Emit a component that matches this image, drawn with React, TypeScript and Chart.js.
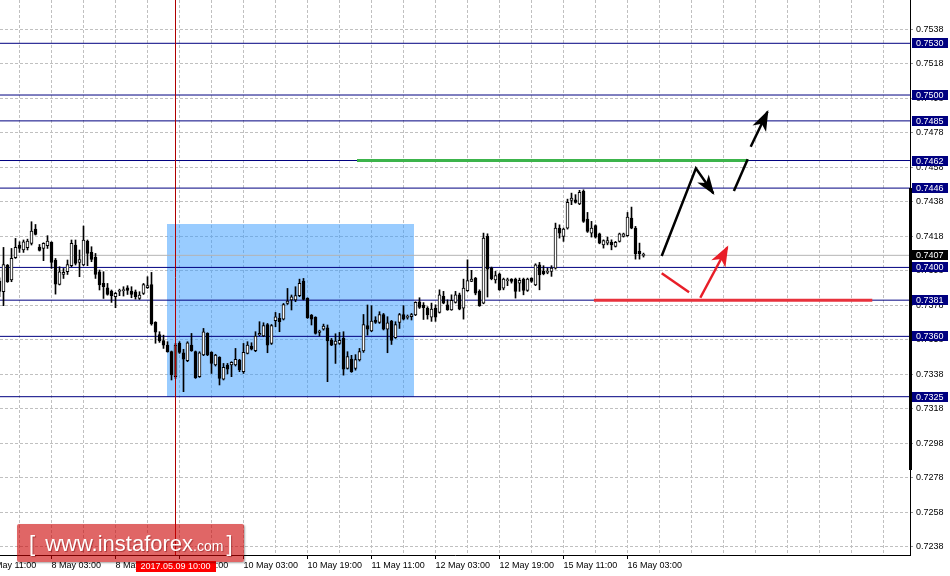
import React, { useEffect, useRef } from 'react';
import { Chart, registerables } from 'chart.js';

Chart.register(...registerables);

// ---------- DATA ----------
// H1 bars, bar index 0 = 5 May 11:00 (weekends skipped)
const FIRST_BAR = 3;

const opens = [
  0.73920,
  0.73859, 0.74014, 0.73927, 0.74056, 0.74130, 0.74101, 0.74114, 0.74139, 0.74222, 0.74118,
  0.74110, 0.74126, 0.74145, 0.74043, 0.73901, 0.73959, 0.73975, 0.74010, 0.74130, 0.74029,
  0.74014, 0.74153, 0.74087, 0.74058, 0.73975, 0.73907, 0.73882, 0.73863, 0.73830, 0.73861,
  0.73865, 0.73882, 0.73863, 0.73859, 0.73820, 0.73849, 0.73882, 0.73901, 0.73681, 0.73611,
  0.73575, 0.73550, 0.73511, 0.73366, 0.73559, 0.73505, 0.73459, 0.73550, 0.73511, 0.73366,
  0.73492, 0.73617, 0.73507, 0.73434, 0.73478, 0.73351, 0.73434, 0.73434, 0.73434, 0.73463,
  0.73395, 0.73501, 0.73544, 0.73517, 0.73608, 0.73602, 0.73669, 0.73559, 0.73691, 0.73704,
  0.73700, 0.73791, 0.73811, 0.73811, 0.73836, 0.73921, 0.73820, 0.73724, 0.73710, 0.73623,
  0.73642, 0.73650, 0.73578, 0.73553, 0.73559, 0.73588, 0.73414, 0.73468, 0.73414, 0.73464,
  0.73515, 0.73662, 0.73631, 0.73695, 0.73681, 0.73727, 0.73642, 0.73689, 0.73592, 0.73681,
  0.73727, 0.73710, 0.73714, 0.73724, 0.73801, 0.73782, 0.73762, 0.73712, 0.73764, 0.73739,
  0.73832, 0.73783, 0.73754, 0.73797, 0.73841, 0.73764, 0.73865, 0.73919, 0.73938, 0.73861,
  0.73793, 0.74180, 0.73996, 0.73928, 0.73961, 0.73880, 0.73923, 0.73932, 0.73932, 0.73909,
  0.73932, 0.73867, 0.73938, 0.73899, 0.74015, 0.73977, 0.73971, 0.73977, 0.73996, 0.74228,
  0.74180, 0.74228, 0.74389, 0.74392, 0.74369, 0.74441, 0.74280, 0.74199, 0.74242, 0.74195,
  0.74131, 0.74141, 0.74147, 0.74122, 0.74151, 0.74180, 0.74184, 0.74286, 0.74228, 0.74093,
  0.74070,
];

const highs = [
  0.73940,
  0.74116, 0.74017, 0.74110, 0.74168, 0.74149, 0.74159, 0.74164, 0.74265, 0.74249, 0.74133,
  0.74143, 0.74184, 0.74149, 0.74052, 0.74004, 0.73994, 0.74043, 0.74159, 0.74159, 0.74101,
  0.74240, 0.74159, 0.74120, 0.74081, 0.73985, 0.73975, 0.73907, 0.73869, 0.73855, 0.73874,
  0.73888, 0.73894, 0.73888, 0.73869, 0.73859, 0.73907, 0.73946, 0.73971, 0.73685, 0.73627,
  0.73607, 0.73569, 0.73515, 0.73560, 0.73569, 0.73525, 0.73569, 0.73617, 0.73515, 0.73511,
  0.73646, 0.73621, 0.73511, 0.73496, 0.73482, 0.73443, 0.73443, 0.73453, 0.73530, 0.73467,
  0.73559, 0.73569, 0.73563, 0.73627, 0.73685, 0.73679, 0.73675, 0.73669, 0.73739, 0.73733,
  0.73791, 0.73878, 0.73840, 0.73888, 0.73932, 0.73936, 0.73824, 0.73727, 0.73714, 0.73636,
  0.73671, 0.73666, 0.73588, 0.73615, 0.73623, 0.73627, 0.73511, 0.73490, 0.73494, 0.73530,
  0.73727, 0.73782, 0.73778, 0.73714, 0.73743, 0.73733, 0.73714, 0.73693, 0.73685, 0.73733,
  0.73778, 0.73724, 0.73733, 0.73801, 0.73824, 0.73796, 0.73772, 0.73793, 0.73783, 0.73870,
  0.73861, 0.73812, 0.73841, 0.73861, 0.73851, 0.73932, 0.74044, 0.73983, 0.73942, 0.73870,
  0.74199, 0.74195, 0.74002, 0.73977, 0.73967, 0.73938, 0.73938, 0.73935, 0.73938, 0.73938,
  0.73938, 0.73938, 0.73940, 0.74021, 0.74029, 0.74010, 0.73996, 0.74010, 0.74257, 0.74247,
  0.74228, 0.74396, 0.74431, 0.74422, 0.74447, 0.74450, 0.74319, 0.74267, 0.74247, 0.74199,
  0.74160, 0.74176, 0.74160, 0.74151, 0.74199, 0.74199, 0.74319, 0.74350, 0.74238, 0.74141,
  0.74083,
];

const lows = [
  0.73830,
  0.73778, 0.73913, 0.73917, 0.74052, 0.74087, 0.74087, 0.74101, 0.74130, 0.74188, 0.74095,
  0.74039, 0.74110, 0.73994, 0.73845, 0.73898, 0.73936, 0.73959, 0.74004, 0.74014, 0.73946,
  0.74010, 0.74010, 0.74033, 0.73936, 0.73869, 0.73820, 0.73839, 0.73797, 0.73766, 0.73836,
  0.73834, 0.73843, 0.73824, 0.73816, 0.73814, 0.73843, 0.73878, 0.73665, 0.73560, 0.73565,
  0.73530, 0.73508, 0.73347, 0.73355, 0.73501, 0.73279, 0.73453, 0.73513, 0.73356, 0.73362,
  0.73488, 0.73488, 0.73385, 0.73428, 0.73318, 0.73347, 0.73382, 0.73366, 0.73428, 0.73395,
  0.73385, 0.73498, 0.73521, 0.73511, 0.73604, 0.73598, 0.73505, 0.73553, 0.73656, 0.73627,
  0.73695, 0.73785, 0.73753, 0.73801, 0.73830, 0.73811, 0.73704, 0.73666, 0.73613, 0.73602,
  0.73636, 0.73337, 0.73546, 0.73443, 0.73553, 0.73375, 0.73410, 0.73391, 0.73404, 0.73457,
  0.73507, 0.73607, 0.73627, 0.73675, 0.73675, 0.73637, 0.73505, 0.73553, 0.73588, 0.73646,
  0.73695, 0.73700, 0.73695, 0.73720, 0.73762, 0.73698, 0.73700, 0.73687, 0.73687, 0.73735,
  0.73789, 0.73751, 0.73751, 0.73793, 0.73754, 0.73700, 0.73861, 0.73917, 0.73841, 0.73774,
  0.73789, 0.73828, 0.73928, 0.73909, 0.73867, 0.73870, 0.73894, 0.73909, 0.73822, 0.73861,
  0.73841, 0.73861, 0.73913, 0.73894, 0.73870, 0.73957, 0.73963, 0.73948, 0.73990, 0.74170,
  0.74151, 0.74222, 0.74364, 0.74373, 0.74364, 0.74261, 0.74203, 0.74176, 0.74170, 0.74137,
  0.74112, 0.74131, 0.74102, 0.74118, 0.74147, 0.74176, 0.74180, 0.74224, 0.74048, 0.74048,
  0.74060,
];

const closes = [
  0.73860,
  0.74017, 0.73917, 0.74052, 0.74116, 0.74110, 0.74149, 0.74153, 0.74211, 0.74191, 0.74099,
  0.74139, 0.74153, 0.74029, 0.73903, 0.73975, 0.73971, 0.74017, 0.74139, 0.74023, 0.74046,
  0.74159, 0.74081, 0.74046, 0.73959, 0.73898, 0.73888, 0.73843, 0.73836, 0.73849, 0.73865,
  0.73869, 0.73867, 0.73843, 0.73830, 0.73839, 0.73901, 0.73894, 0.73672, 0.73625, 0.73573,
  0.73549, 0.73511, 0.73376, 0.73550, 0.73507, 0.73467, 0.73563, 0.73517, 0.73360, 0.73505,
  0.73627, 0.73492, 0.73443, 0.73492, 0.73356, 0.73420, 0.73409, 0.73449, 0.73467, 0.73405,
  0.73507, 0.73550, 0.73525, 0.73602, 0.73617, 0.73662, 0.73549, 0.73662, 0.73714, 0.73685,
  0.73785, 0.73805, 0.73830, 0.73836, 0.73907, 0.73814, 0.73708, 0.73700, 0.73617, 0.73631,
  0.73660, 0.73573, 0.73549, 0.73573, 0.73577, 0.73410, 0.73482, 0.73395, 0.73466, 0.73511,
  0.73669, 0.73642, 0.73689, 0.73681, 0.73727, 0.73642, 0.73679, 0.73577, 0.73669, 0.73727,
  0.73700, 0.73714, 0.73727, 0.73797, 0.73768, 0.73766, 0.73724, 0.73758, 0.73712, 0.73841,
  0.73793, 0.73754, 0.73809, 0.73841, 0.73758, 0.73880, 0.73923, 0.73932, 0.73851, 0.73778,
  0.74170, 0.73990, 0.73934, 0.73952, 0.73870, 0.73932, 0.73927, 0.73919, 0.73861, 0.73925,
  0.73867, 0.73932, 0.73919, 0.74015, 0.73957, 0.73963, 0.73975, 0.73996, 0.74228, 0.74199,
  0.74222, 0.74377, 0.74402, 0.74377, 0.74435, 0.74267, 0.74209, 0.74228, 0.74176, 0.74141,
  0.74155, 0.74155, 0.74131, 0.74145, 0.74195, 0.74195, 0.74292, 0.74228, 0.74079, 0.74079,
  0.74072,
];

const levelPrices = [0.7530, 0.7500, 0.7485, 0.7462, 0.7446, 0.7400, 0.7381, 0.7360, 0.7325];
const currentPrice = 0.7407;
const yTickValues = [
  0.7238, 0.7258, 0.7278, 0.7298, 0.7318, 0.7338, 0.7358, 0.7378,
  0.7398, 0.7418, 0.7438, 0.7458, 0.7478, 0.7498, 0.7518, 0.7538,
];
const timeGridBars = [
  0, 8, 16, 24, 32, 40, 48, 56, 64, 72, 80, 88, 96, 104, 112, 120, 128,
  136, 144, 152, 160, 168, 176, 184, 192, 200, 208, 216, 224,
];
const timeLabelBars = [0, 16, 32, 48, 64, 80, 96, 112, 128, 144, 160];
const timeLabels = [
  '5 May 11:00', '8 May 03:00', '8 May 19:00', '9 May 11:00', '10 May 03:00',
  '10 May 19:00', '11 May 11:00', '12 May 03:00', '12 May 19:00', '15 May 11:00', '16 May 03:00',
];
const crosshairBar = 47;
const crosshairLabel = '2017.05.09 10:00';

const boxBars = [44.875, 106.625];
const boxPrices = [0.7325, 0.74252];
const greenLineBars = [92.375, 190.2];
const greenLinePrice = 0.7462;
const redLineBars = [151.6, 221.2];
const redLinePrice = 0.7381;
const blackArrow1Bars = [168.55, 177.1, 181.45];
const blackArrow1Prices = [0.74066, 0.74575, 0.7443];
const blackDashABars = [186.6, 190.05];
const blackDashAPrices = [0.74443, 0.74627];
const blackDashBBars = [190.8, 195.0];
const blackDashBPrices = [0.747, 0.74903];
const redStrokeBars = [168.55, 175.4];
const redStrokePrices = [0.73966, 0.73856];
const redArrowBars = [178.2, 184.95];
const redArrowPrices = [0.73824, 0.74117];
const axisMarkerPrices = [0.72825, 0.7446];

const X_MIN = 3.125;
const X_MAX = 230.625;
const Y_MIN = 0.723317;
const Y_MAX = 0.755512;

// ---------- STYLE ----------
const FONT = '"Liberation Sans", Arial, sans-serif';
const NAVY = '#000080';
const GRID = '#c0c0c0';

const pts = (xs: number[], ys: number[]) => xs.map((x, k) => ({ x, y: ys[k] }));

const arrowHeadPlugin = {
  id: 'arrowHeads',
  afterDatasetsDraw(chart: any) {
    const ctx = chart.ctx;
    chart.data.datasets.forEach((ds: any, di: number) => {
      if (!ds.arrowHead) return;
      const p = chart.getDatasetMeta(di).data;
      const a = p[p.length - 2];
      const b = p[p.length - 1];
      const ang = Math.atan2(b.y - a.y, b.x - a.x);
      const L = ds.arrowHead.length;
      const W = ds.arrowHead.width;
      ctx.save();
      ctx.translate(b.x, b.y);
      ctx.rotate(ang);
      ctx.beginPath();
      ctx.moveTo(2, 0);
      ctx.lineTo(-L, -W / 2);
      ctx.lineTo(-L * 0.7, 0);
      ctx.lineTo(-L, W / 2);
      ctx.closePath();
      ctx.fillStyle = ds.borderColor;
      ctx.fill();
      ctx.restore();
    });
  },
};

const axisOverlayPlugin = {
  id: 'axisOverlay',
  afterDraw(chart: any) {
    const { ctx, chartArea } = chart;
    const x = chart.scales.x;
    const y = chart.scales.y;
    ctx.save();
    // thick marker on the price axis
    const mTop = y.getPixelForValue(axisMarkerPrices[1]);
    const mBot = y.getPixelForValue(axisMarkerPrices[0]);
    ctx.fillStyle = '#000';
    ctx.fillRect(chartArea.right - 1, Math.round(mTop), 3, Math.round(mBot - mTop));

    ctx.font = '9px ' + FONT;
    ctx.textBaseline = 'middle';
    ctx.textAlign = 'left';
    const boxL = chartArea.right + 2;
    const drawBox = (v: number, bg: string) => {
      const py = Math.round(y.getPixelForValue(v));
      ctx.fillStyle = bg;
      ctx.fillRect(boxL, py - 5, 36, 10);
      ctx.fillStyle = '#fff';
      ctx.fillText(v.toFixed(4), boxL + 4, py + 0.5);
    };
    levelPrices.forEach((v) => drawBox(v, NAVY));
    drawBox(currentPrice, '#000');

    // time label of the crosshair
    const px = x.getPixelForValue(crosshairBar);
    const top = x.top + 6;
    ctx.fillStyle = '#ff0000';
    ctx.fillRect(Math.round(px - 40), top, 80, 11);
    ctx.fillStyle = '#fff';
    ctx.textAlign = 'center';
    ctx.fillText(crosshairLabel, px, top + 6);
    ctx.restore();
  },
};

export default function App() {
  const ref = useRef<HTMLCanvasElement | null>(null);

  useEffect(() => {
    if (!ref.current) return;
    const n = opens.length;
    const wicks: any[] = [];
    const bodies: any[] = [];
    const bodyFill: string[] = [];
    for (let k = 0; k < n; k++) {
      const bar = FIRST_BAR + k;
      wicks.push({ x: bar, y: [lows[k], highs[k]] });
      bodies.push({ x: bar, y: [Math.min(opens[k], closes[k]), Math.max(opens[k], closes[k])] });
      bodyFill.push(closes[k] >= opens[k] ? '#ffffff' : '#000000');
    }

    const line = (data: any[], color: string, width: number, order: number, extra: any = {}) => ({
      type: 'line',
      data,
      borderColor: color,
      backgroundColor: color,
      borderWidth: width,
      pointRadius: 0,
      tension: 0,
      fill: false,
      order,
      ...extra,
    });

    const datasets: any[] = [
      line(pts(boxBars, [boxPrices[1], boxPrices[1]]), 'rgba(0,0,0,0)', 0, 100, {
        fill: { value: boxPrices[0] },
        backgroundColor: 'rgba(51,153,255,0.5)',
      }),
      ...levelPrices.map((v) => line(pts([X_MIN, X_MAX], [v, v]), NAVY, 1, 50)),
      line(pts([X_MIN, X_MAX], [currentPrice, currentPrice]), '#b4b4b4', 1, 49),
      {
        type: 'bar',
        data: wicks,
        backgroundColor: '#000',
        borderWidth: 0,
        barThickness: 1,
        grouped: false,
        order: 10,
      },
      {
        type: 'bar',
        data: bodies,
        backgroundColor: bodyFill,
        borderColor: '#000',
        borderWidth: 1,
        borderSkipped: false,
        barThickness: 3,
        minBarLength: 1,
        grouped: false,
        order: 9,
      },
      line(pts([crosshairBar, crosshairBar], [Y_MIN, Y_MAX]), '#b00000', 1, 4),
      line(pts(greenLineBars, [greenLinePrice, greenLinePrice]), '#3cb44b', 3, 3),
      line(pts(redLineBars, [redLinePrice, redLinePrice]), '#e8323c', 3, 3),
      line(pts(blackArrow1Bars, blackArrow1Prices), '#000', 2.5, 1, { arrowHead: { length: 18, width: 14 } }),
      line(pts(blackDashABars, blackDashAPrices), '#000', 2.5, 1),
      line(pts(blackDashBBars, blackDashBPrices), '#000', 2.5, 1, { arrowHead: { length: 19, width: 15 } }),
      line(pts(redStrokeBars, redStrokePrices), '#e81e28', 2.5, 1),
      line(pts(redArrowBars, redArrowPrices), '#e81e28', 2.5, 1, { arrowHead: { length: 19, width: 16 } }),
    ];

    const chart = new Chart(ref.current, {
      type: 'bar',
      data: { datasets },
      options: {
        animation: false,
        responsive: false,
        devicePixelRatio: 1,
        events: [],
        layout: { padding: 0 },
        plugins: { legend: { display: false }, tooltip: { enabled: false } },
        scales: {
          x: {
            type: 'linear',
            min: X_MIN,
            max: X_MAX,
            offset: false,
            afterBuildTicks: (s: any) => {
              s.ticks = timeGridBars.map((v) => ({ value: v }));
            },
            afterFit: (s: any) => {
              s.height = 21;
              s.paddingLeft = 0;
              s.paddingRight = 0;
            },
            ticks: {
              autoSkip: false,
              maxRotation: 0,
              minRotation: 0,
              align: 'start',
              padding: 1,
              color: '#000',
              font: { family: FONT, size: 9 },
              callback: (v: any) => {
                const k = timeLabelBars.indexOf(Number(v));
                return k >= 0 ? timeLabels[k] : '';
              },
            },
            grid: {
              offset: false,
              color: GRID,
              drawTicks: true,
              tickLength: 4,
              tickColor: (c: any) =>
                c.tick && timeLabelBars.indexOf(c.tick.value) >= 0 ? '#000' : 'rgba(0,0,0,0)',
              tickBorderDash: [],
            },
            border: { display: true, color: '#000', width: 1, dash: [3, 2] },
          },
          y: {
            type: 'linear',
            position: 'right',
            min: Y_MIN,
            max: Y_MAX,
            afterBuildTicks: (s: any) => {
              s.ticks = yTickValues.map((v) => ({ value: v }));
            },
            afterFit: (s: any) => {
              s.width = 40;
              s.paddingTop = 0;
              s.paddingBottom = 0;
            },
            ticks: {
              autoSkip: false,
              padding: 3,
              color: '#000',
              font: { family: FONT, size: 9 },
              callback: (v: any) => Number(v).toFixed(4),
            },
            grid: {
              color: GRID,
              drawTicks: true,
              tickLength: 3,
              tickColor: '#909090',
              tickBorderDash: [],
            },
            border: { display: true, color: '#000', width: 1, dash: [3, 2] },
          },
        },
      } as any,
      plugins: [arrowHeadPlugin, axisOverlayPlugin],
    } as any);

    return () => chart.destroy();
  }, []);

  return (
    <div style={{ position: 'fixed', left: 0, top: 0, width: 950, height: 576, background: '#fff', overflow: 'hidden' }}>
      <canvas ref={ref} width={950} height={576} style={{ display: 'block', width: 950, height: 576 }} />
      <div
        style={{
          position: 'absolute',
          left: 17,
          top: 524,
          width: 227,
          height: 38,
          background: 'rgba(204,0,0,0.6)',
          borderRadius: 2,
          boxShadow: '1px 1px 2px rgba(0,0,0,0.35)',
          color: '#fff',
          fontFamily: FONT,
          pointerEvents: 'none',
        }}
      >
        <div
          style={{
            position: 'absolute',
            left: 12,
            top: 9,
            fontSize: 22,
            lineHeight: '22px',
            whiteSpace: 'nowrap',
            textShadow: '1px 1px 1px rgba(110,0,0,0.45)',
          }}
        >
          <span>[</span>
          <span style={{ marginLeft: 10 }}>www.instaforex</span>
          <span style={{ fontSize: 14 }}>.com</span>
          <span style={{ marginLeft: 3 }}>]</span>
        </div>
      </div>
    </div>
  );
}
